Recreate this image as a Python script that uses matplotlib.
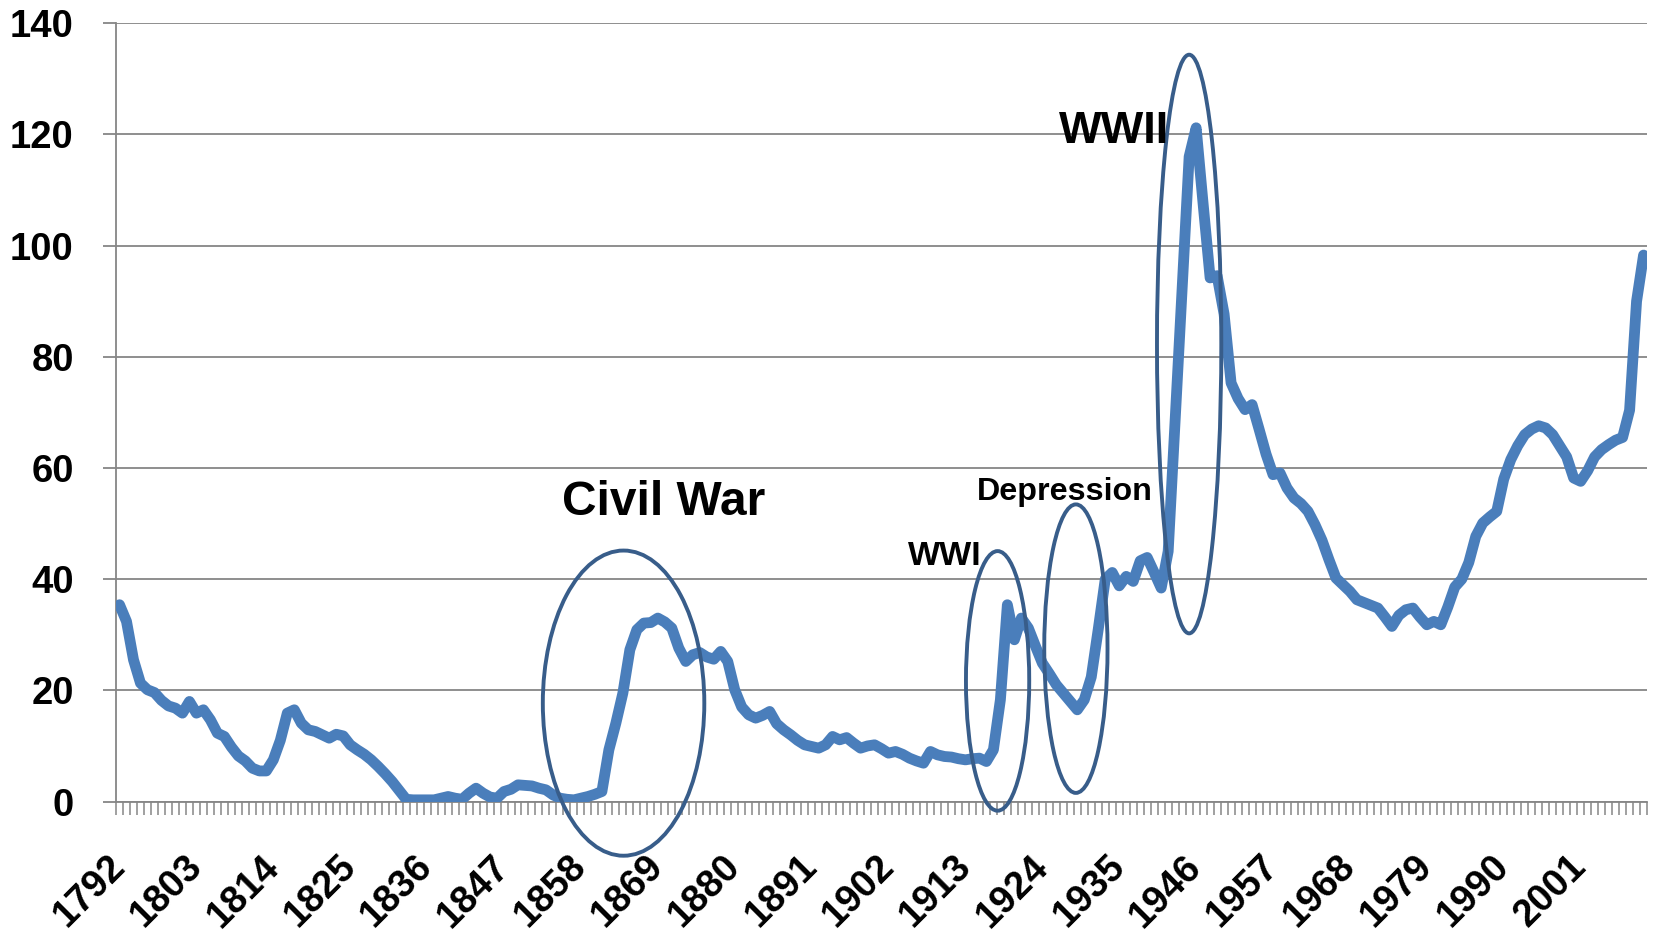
import matplotlib
matplotlib.use("Agg")
import matplotlib.pyplot as plt
from matplotlib.patches import Ellipse

plt.rcParams["font.family"] = ["Liberation Sans", "DejaVu Sans"]
plt.rcParams["font.weight"] = "bold"

# federal debt as % of GDP, one value per year
years = list(range(1792, 2011))
debt_pct = [
    35.4, 32.4, 25.5, 21.3, 20.1, 19.6, 18.2, 17.2,                 # 1792-1799
    16.8, 15.9, 18.0, 15.9, 16.5, 14.7, 12.3, 11.7, 9.8, 8.2,       # 1800s
    7.3, 6.0, 5.5, 5.5, 7.5, 11.0, 15.9, 16.5, 14.1, 12.9,          # 1810s
    12.6, 12.0, 11.4, 12.1, 11.8, 10.2, 9.3, 8.5, 7.5, 6.3,         # 1820s
    5.0, 3.6, 2.0, 0.4, 0.3, 0.3, 0.3, 0.3, 0.6, 0.9,               # 1830s
    0.6, 0.4, 1.5, 2.4, 1.5, 0.8, 0.6, 1.8, 2.2, 3.0,               # 1840s
    2.9, 2.8, 2.4, 2.1, 1.2, 0.6, 0.4, 0.3, 0.6, 0.9,               # 1850s
    1.3, 1.8, 9.3, 14.1, 19.5, 27.3, 30.9, 32.1, 32.2, 33.0,        # 1860s
    32.3, 31.2, 27.6, 25.2, 26.4, 26.8, 26.0, 25.6, 27.0, 25.2,     # 1870s
    20.1, 17.0, 15.6, 15.0, 15.5, 16.2, 14.0, 12.9, 12.0, 11.0,     # 1880s
    10.2, 9.9, 9.6, 10.2, 11.7, 11.1, 11.5, 10.5, 9.6, 10.0,        # 1890s
    10.2, 9.5, 8.7, 9.0, 8.5, 7.8, 7.3, 6.9, 9.0, 8.4,              # 1900s
    8.1, 8.0, 7.7, 7.5, 7.7, 7.8, 7.2, 9.3, 18.3, 35.4,             # 1910s
    29.1, 33.0, 31.2, 28.0, 24.9, 23.0, 21.0, 19.5, 18.0, 16.5,     # 1920s
    18.3, 22.4, 31.0, 40.0, 41.2, 38.8, 40.5, 39.6, 43.3, 43.9,     # 1930s
    41.2, 38.4, 45.0, 68.7, 92.3, 116.0, 121.2, 107.5, 94.2, 94.6,  # 1940s
    87.7, 75.3, 72.5, 70.5, 71.4, 67.0, 62.5, 58.8, 59.1, 56.4,     # 1950s
    54.6, 53.6, 52.2, 49.8, 47.0, 43.5, 40.2, 39.0, 37.8, 36.3,     # 1960s
    35.8, 35.3, 34.8, 33.2, 31.5, 33.5, 34.5, 34.8, 33.2, 31.8,     # 1970s
    32.4, 31.8, 35.0, 38.6, 40.0, 43.0, 47.7, 50.1, 51.2, 52.2,     # 1980s
    58.0, 61.5, 64.0, 66.0, 67.0, 67.6, 67.2, 66.0, 64.0, 62.0,     # 1990s
    58.2, 57.6, 59.5, 62.0, 63.3, 64.2, 65.0, 65.5, 70.4, 90.0,     # 2000s
    98.3,                                                           # 2010
]

label_years = list(range(1792, 2011, 11))
y_ticks = [0, 20, 40, 60, 80, 100, 120, 140]

# annotation text and circled periods
notes = ["Civil War", "Depression", "WWI", "WWII"]
note_x = [1869.8, 1927.2, 1910.0, 1934.3]
note_y = [51.6, 54.3, 42.6, 118.4]
note_size = [34.5, 23.2, 24.5, 32.5]

circle_x = [1864.1, 1917.6, 1928.8, 1945.0]
circle_y = [17.7, 21.7, 27.5, 82.3]
circle_w = [23.1, 9.05, 9.05, 9.2]
circle_h = [54.9, 46.7, 51.9, 104.1]

grey = "#868686"

fig = plt.figure(figsize=(16.55, 9.32), dpi=100)
ax = fig.add_axes([0.0701, 0.14, 0.9251, 0.835])

ax.plot(years, debt_pct, color="#4A7EBB", linewidth=7.8,
        solid_joinstyle="round", solid_capstyle="round", zorder=3)

ax.set_xlim(1791.5, 2010.5)
ax.set_ylim(0, 140)

ax.set_yticks(y_ticks)
ax.yaxis.grid(True, color=grey, linewidth=1.3)
ax.set_axisbelow(True)

ax.set_xticks(label_years)
ax.set_xticks([y - 0.5 for y in years] + [2010.5], minor=True)
ax.tick_params(axis="x", which="major", length=0, pad=43, labelsize=27.5)
ax.tick_params(axis="x", which="minor", length=9.4, width=1.3, color="#999999")
ax.tick_params(axis="y", length=9.4, width=1.3, color=grey, pad=21, labelsize=27.5)
for lbl in ax.get_xticklabels():
    lbl.set_rotation(45)
    lbl.set_ha("right")
    lbl.set_va("center")
    lbl.set_rotation_mode("anchor")

for side in ["top", "right"]:
    ax.spines[side].set_visible(False)
for side in ["left", "bottom"]:
    ax.spines[side].set_color(grey)
    ax.spines[side].set_linewidth(1.3)

for cx, cy, w, h in zip(circle_x, circle_y, circle_w, circle_h):
    ax.add_patch(Ellipse((cx, cy), w, h, fill=False, edgecolor="#385D8A",
                         linewidth=2.8, clip_on=False, zorder=4))

for txt, tx, ty, fs in zip(notes, note_x, note_y, note_size):
    ax.text(tx, ty, txt, ha="center", va="baseline", fontsize=fs,
            fontweight="bold", color="black", zorder=5)

fig.savefig("out.png", dpi=100)
